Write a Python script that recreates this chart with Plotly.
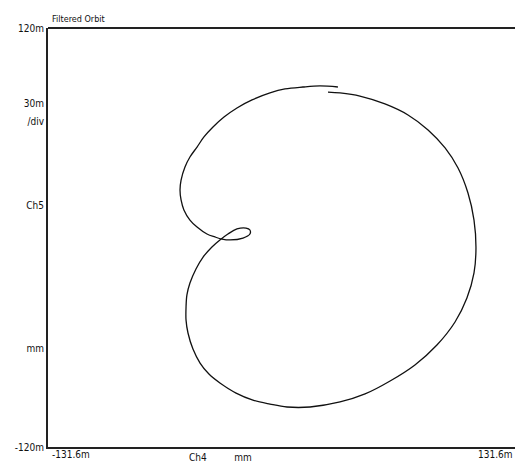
import plotly.graph_objects as go

# Orbit trace (Ch4 = x, Ch5 = y), in mm
orbit_x = [31.8, 21.7, 12.1, 2.0, -6.5, -16.6, -25.1, -32.4, -38.6, -43.7, -47.6, -51.6,
           -54.4, -56.6, -57.2, -56.6, -55.0, -51.6, -47.6, -42.0, -37.5, -33.5,
           -29.0, -21.7, -17.8, -17.8, -20.0, -25.1, -30.2, -34.7,
           -39.2, -44.2, -48.2, -51.6, -53.3, -53.8, -53.8, -52.7, -49.9, -45.9, -40.9, -34.7,
           -25.6, -16.1, -6.5, 3.1, 16.1,
           33.0, 47.1, 61.2, 75.2, 87.6, 97.8, 104.5, 108.5, 109.6,
           108.5, 105.1, 99.5, 92.2, 82.6, 71.3, 58.3, 44.2, 33.0, 26.2]
orbit_y = [86.2, 86.8, 86.2, 85.1, 82.8, 78.8, 74.2, 69.0, 63.3, 57.6, 51.8, 46.1,
           40.4, 32.9, 27.2, 21.5, 15.8, 10.0, 6.0, 2.0, 0.3, -0.9,
           -1.4, -0.3, 2.0, 4.3, 5.4, 4.9, 2.0, -1.4,
           -5.4, -11.2, -18.0, -26.1, -32.9, -39.8, -47.3, -54.7, -63.9, -71.9, -78.2, -83.3,
           -89.1, -93.1, -95.4, -97.1, -97.1,
           -94.2, -89.6, -82.2, -73.0, -61.6, -48.4, -34.7, -20.3, -6.0,
           10.0, 25.5, 39.8, 51.3, 61.6, 70.2, 76.5, 81.0, 82.8, 83.3]

x_range = [-131.6, 131.6]
y_range = [-120, 120]
y_tick_vals = [120, 76.5, 66.2, 18.6, -63.3, -120]
y_tick_text = ["120m", "30m", "/div", "Ch5", "mm", "-120m"]
x_tick_vals = [-47.1, -21.7]
x_tick_text = ["Ch4", "mm"]
title_text = "Filtered Orbit"

FONT = "DejaVu Sans Condensed"

fig = go.Figure()
fig.add_trace(go.Scatter(
    x=orbit_x, y=orbit_y, mode="lines",
    line=dict(color="#111111", width=1.3, shape="spline", smoothing=1.0),
    hoverinfo="skip", showlegend=False,
))

fig.update_layout(
    width=515, height=471,
    margin=dict(l=48, r=0, t=28, b=24, autoexpand=False),
    paper_bgcolor="white", plot_bgcolor="white",
    font=dict(family=FONT, size=10, color="#111111"),
    xaxis=dict(range=x_range, showgrid=False, zeroline=False, showline=True,
               linecolor="#222222", linewidth=2, ticks="", automargin=False,
               tickvals=x_tick_vals, ticktext=x_tick_text, tickfont=dict(size=10)),
    yaxis=dict(range=y_range, showgrid=False, zeroline=False, showline=True,
               linecolor="#222222", linewidth=2, ticks="", automargin=False,
               tickvals=y_tick_vals, ticktext=y_tick_text, tickfont=dict(size=10),
               ticklabelstandoff=0),
    shapes=[dict(type="line", xref="paper", yref="paper", x0=0, x1=1, y0=1, y1=1,
                 line=dict(color="#222222", width=2))],
    annotations=[
        dict(text=title_text, xref="paper", yref="paper", x=0, y=1, xanchor="left",
             yanchor="bottom", showarrow=False, font=dict(size=9), xshift=2, yshift=2),
        dict(text="-131.6m", xref="x", yref="paper", x=x_range[0], y=0, xanchor="left",
             yanchor="top", showarrow=False, font=dict(size=10), xshift=2),
        dict(text="131.6m", xref="x", yref="paper", x=x_range[1], y=0, xanchor="right",
             yanchor="top", showarrow=False, font=dict(size=10)),
    ],
)

fig.write_html("out.html", config={"displayModeBar": False},
               post_script="document.body.style.margin='0';document.body.style.overflow='hidden';")
